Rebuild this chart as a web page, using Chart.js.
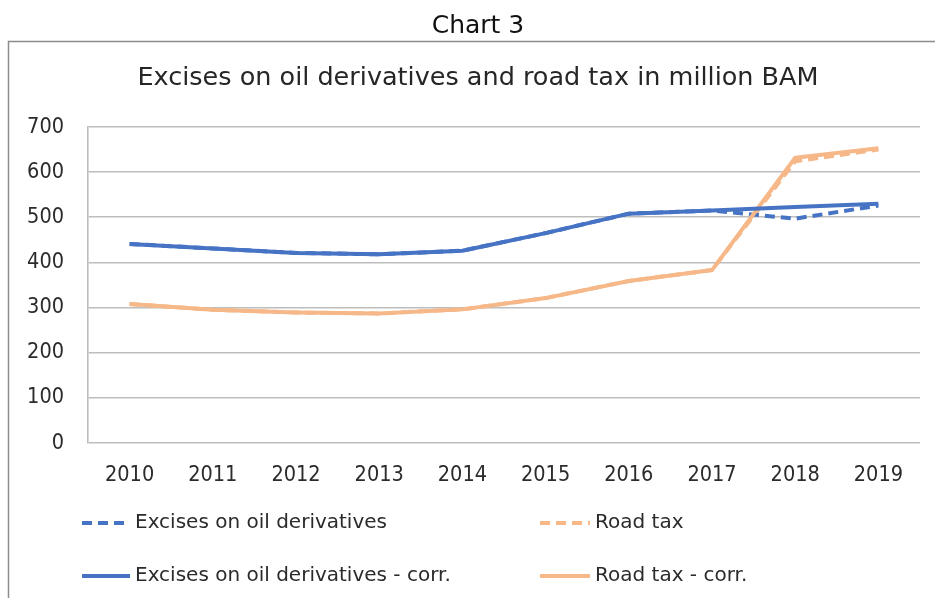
<!DOCTYPE html>
<html>
<head>
<meta charset="utf-8">
<script src="https://cdn.jsdelivr.net/npm/chart.js@4.4.1/dist/chart.umd.min.js"></script>
<style>
  html, body { margin: 0; padding: 0; background: #ffffff; }
  #wrap { position: relative; width: 935px; height: 598px; }
</style>
</head>
<body>
<div id="wrap"><canvas id="c" width="935" height="598"></canvas></div>
<script>
// Years on the horizontal axis
const years = ['2010', '2011', '2012', '2013', '2014', '2015', '2016', '2017', '2018', '2019'];

// Excises on oil derivatives, million BAM
const excises = [441, 431, 421, 418, 426, 465, 508, 515, 497, 526];
// Excises on oil derivatives, corrected series
const excisesCorr = [441, 431, 421, 418, 426, 465, 508, 515, 523, 530];

// Road tax, million BAM
const roadTax = [308, 295, 289, 287, 296, 321, 359, 383, 624, 650];
// Road tax, corrected series
const roadTaxCorr = [308, 295, 289, 287, 296, 321, 359, 383, 632, 653];

// Value axis ticks
const yTicks = [0, 100, 200, 300, 400, 500, 600, 700];

const legendLabels = [
  'Excises on oil derivatives',
  'Road tax',
  'Excises on oil derivatives - corr.',
  'Road tax - corr.'
];

const BLUE = '#4673c4';
const ORANGE = '#f6b888';
const FONT = "'DejaVu Sans', Verdana, sans-serif";
const TICKFONT = "'DejaVu Sans Condensed', 'DejaVu Sans', sans-serif";
const TEXT = '#2b2b2b';

// Frame, heading, title and the two-column legend
const decor = {
  id: 'decor',
  afterDraw(chart) {
    const ctx = chart.ctx;
    ctx.save();
    // outer frame
    ctx.strokeStyle = '#8c8c8c';
    ctx.lineWidth = 1.5;
    ctx.beginPath();
    ctx.moveTo(8.5, 600);
    ctx.lineTo(8.5, 41.5);
    ctx.lineTo(940, 41.5);
    ctx.stroke();

    // heading above the frame
    ctx.fillStyle = '#111111';
    ctx.textAlign = 'center';
    ctx.textBaseline = 'middle';
    ctx.font = '25px ' + FONT;
    ctx.fillText('Chart 3', 478, 26);

    // chart title
    ctx.fillStyle = '#262626';
    ctx.font = '25.5px ' + FONT;
    ctx.fillText('Excises on oil derivatives and road tax in million BAM', 478, 78);

    // legend
    const slots = [
      { x0: 82, x1: 130, y: 523 },
      { x0: 540, x1: 590, y: 523 },
      { x0: 82, x1: 130, y: 576 },
      { x0: 540, x1: 590, y: 576 }
    ];
    const order = [0, 2, 1, 3];
    ctx.textAlign = 'left';
    ctx.font = '20px ' + FONT;
    order.forEach((dsIndex, i) => {
      const ds = chart.data.datasets[dsIndex];
      const s = slots[i];
      ctx.strokeStyle = ds.borderColor;
      ctx.lineWidth = ds.borderWidth;
      ctx.setLineDash(ds.borderDash || []);
      ctx.beginPath();
      ctx.moveTo(s.x0, s.y);
      ctx.lineTo(s.x1, s.y);
      ctx.stroke();
      ctx.setLineDash([]);
      ctx.fillStyle = TEXT;
      ctx.fillText(ds.label, s.x1 + 5, s.y);
    });
    ctx.restore();
  }
};

new Chart(document.getElementById('c'), {
  type: 'line',
  data: {
    labels: years,
    datasets: [
      { label: legendLabels[0], data: excises, borderColor: BLUE, borderWidth: 4, borderDash: [10, 6], order: 2 },
      { label: legendLabels[2], data: excisesCorr, borderColor: BLUE, borderWidth: 4, order: 0 },
      { label: legendLabels[1], data: roadTax, borderColor: ORANGE, borderWidth: 4, borderDash: [10, 6], order: 3 },
      { label: legendLabels[3], data: roadTaxCorr, borderColor: ORANGE, borderWidth: 4, order: 1 }
    ]
  },
  options: {
    responsive: false,
    animation: false,
    elements: {
      point: { radius: 0, hoverRadius: 0 },
      line: { tension: 0, borderCapStyle: 'butt', borderJoinStyle: 'round', fill: false }
    },
    layout: { padding: { left: 0, right: 15, top: 127, bottom: 0 } },
    plugins: {
      legend: { display: false },
      title: { display: false },
      tooltip: { enabled: false }
    },
    scales: {
      x: {
        offset: true,
        grid: { display: false, drawTicks: false },
        border: { display: false },
        ticks: { color: TEXT, font: { family: TICKFONT, size: 21.5 }, padding: 20, maxRotation: 0 },
        afterFit(scale) { scale.height = 155; }
      },
      y: {
        min: 0,
        max: 700,
        afterBuildTicks(scale) { scale.ticks = yTicks.map(v => ({ value: v })); },
        grid: { color: '#bdbdbd', lineWidth: 1.6, drawTicks: false },
        border: { display: true, color: '#bdbdbd', width: 1.6 },
        ticks: { color: TEXT, font: { family: TICKFONT, size: 21.5 }, padding: 24 },
        afterFit(scale) { scale.width = 88; }
      }
    }
  },
  plugins: [decor]
});
</script>
</body>
</html>
